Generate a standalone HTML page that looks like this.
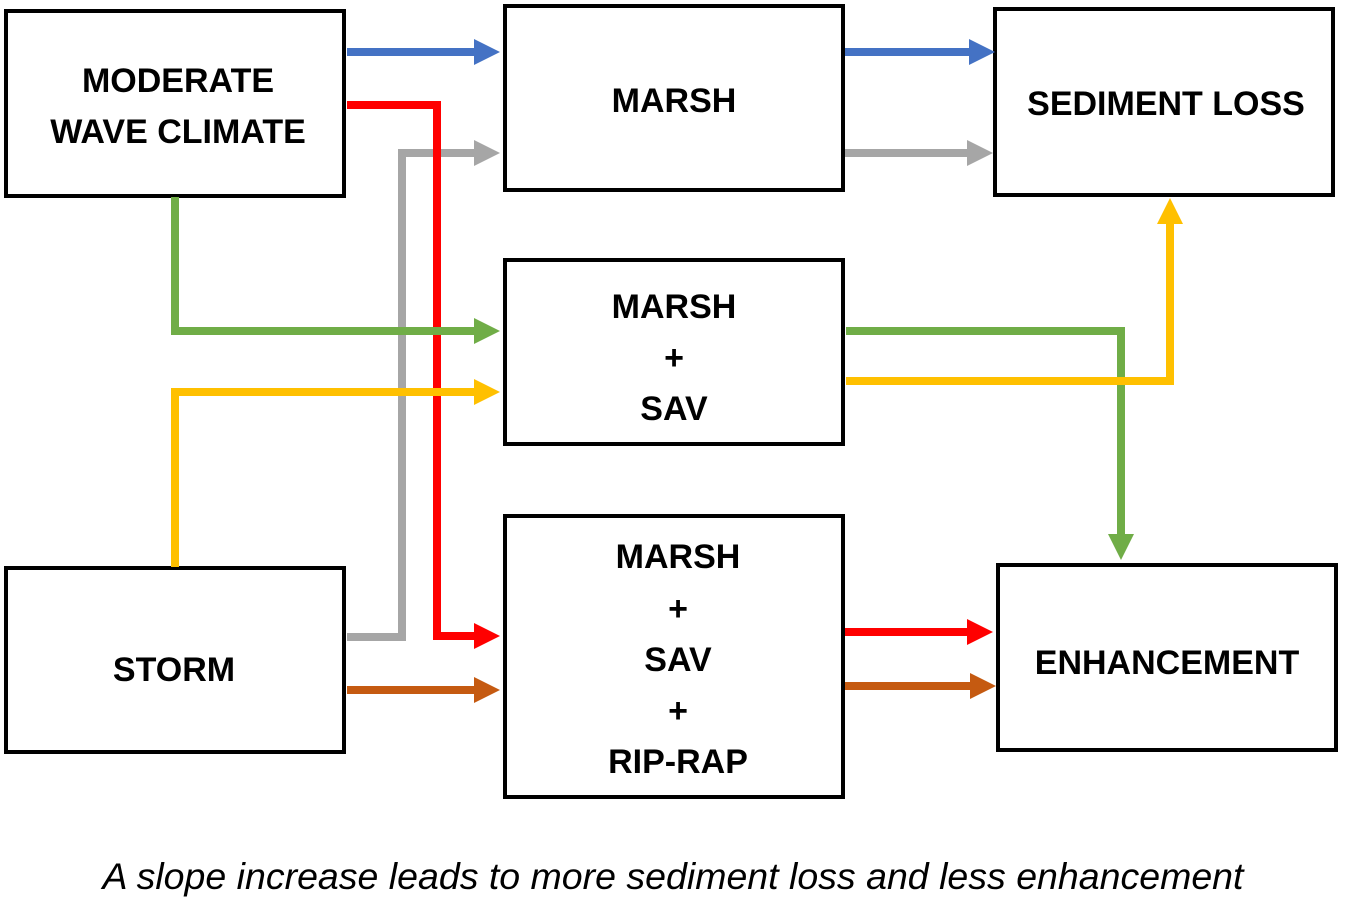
<!DOCTYPE html>
<html><head><style>
body{margin:0;background:#fff;width:1346px;height:905px;overflow:hidden}
svg text{font-family:"Liberation Sans",sans-serif;font-weight:bold;font-size:34px;fill:#000;text-anchor:middle}
</style></head><body>
<svg width="1346" height="905" viewBox="0 0 1346 905">
<g fill="#fff" stroke="#000" stroke-width="4">
<rect x="6" y="11" width="338" height="185"/>
<rect x="6" y="568" width="338" height="184"/>
<rect x="505" y="6" width="338" height="184"/>
<rect x="505" y="260" width="338" height="184"/>
<rect x="505" y="516" width="338" height="281"/>
<rect x="995" y="9" width="338" height="186"/>
<rect x="998" y="565" width="338" height="185"/>
</g>
<g fill="none" stroke-width="8">
<path d="M347,52H478" stroke="#4472c4"/>
<path d="M845,52H972" stroke="#4472c4"/>
<path d="M347,637H402V153H478" stroke="#a6a6a6"/>
<path d="M845,153H970" stroke="#a6a6a6"/>
<path d="M347,105H437V636H478" stroke="#ff0000"/>
<path d="M845,632H970" stroke="#ff0000"/>
<path d="M175,197V331H478" stroke="#70ad47"/>
<path d="M846,331H1121V538" stroke="#70ad47"/>
<path d="M175,567V392H478" stroke="#ffc000"/>
<path d="M846,381H1170V220" stroke="#ffc000"/>
<path d="M347,690H478" stroke="#c55a11"/>
<path d="M845,686H973" stroke="#c55a11"/>
</g>
<g>
<polygon points="474,39 500,52 474,65" fill="#4472c4"/>
<polygon points="969,39 995,52 969,65" fill="#4472c4"/>
<polygon points="474,140 500,153 474,166" fill="#a6a6a6"/>
<polygon points="967,140 993,153 967,166" fill="#a6a6a6"/>
<polygon points="474,623 500,636 474,649" fill="#ff0000"/>
<polygon points="967,619 993,632 967,645" fill="#ff0000"/>
<polygon points="474,318 500,331 474,344" fill="#70ad47"/>
<polygon points="1108,534 1121,560 1134,534" fill="#70ad47"/>
<polygon points="474,379 500,392 474,405" fill="#ffc000"/>
<polygon points="1157,224 1170,198 1183,224" fill="#ffc000"/>
<polygon points="474,677 500,690 474,703" fill="#c55a11"/>
<polygon points="970,673 996,686 970,699" fill="#c55a11"/>
</g>
<text x="178" y="92">MODERATE</text>
<text x="178" y="143">WAVE CLIMATE</text>
<text x="174" y="681">STORM</text>
<text x="674" y="112">MARSH</text>
<text x="674" y="318">MARSH</text>
<text x="674" y="369">+</text>
<text x="674" y="420">SAV</text>
<text x="678" y="568">MARSH</text>
<text x="678" y="620">+</text>
<text x="678" y="671">SAV</text>
<text x="678" y="722">+</text>
<text x="678" y="773">RIP-RAP</text>
<text x="1166" y="115">SEDIMENT LOSS</text>
<text x="1167" y="674">ENHANCEMENT</text>
<text x="673" y="889" style="font-weight:normal;font-style:italic;font-size:37.5px">A slope increase leads to more sediment loss and less enhancement</text>
</svg>
</body></html>
